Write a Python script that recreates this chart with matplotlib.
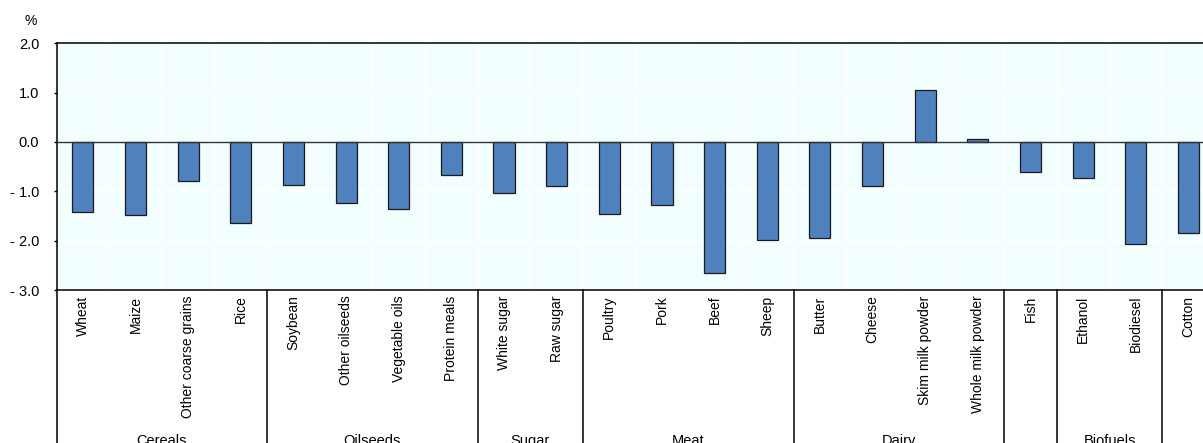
import matplotlib
matplotlib.use("Agg")
from matplotlib import pyplot as plt
from matplotlib import transforms
import numpy as np

# commodities and % change values
products = ["Wheat", "Maize", "Other coarse grains", "Rice",
            "Soybean", "Other oilseeds", "Vegetable oils", "Protein meals",
            "White sugar", "Raw sugar",
            "Poultry", "Pork", "Beef", "Sheep",
            "Butter", "Cheese", "Skim milk powder", "Whole milk powder",
            "Fish",
            "Ethanol", "Biodiesel",
            "Cotton"]
values = [-1.41, -1.47, -0.80, -1.64,
          -0.87, -1.23, -1.36, -0.67,
          -1.04, -0.89,
          -1.46, -1.28, -2.66, -1.99,
          -1.95, -0.89, 1.05, 0.06,
          -0.61,
          -0.72, -2.07,
          -1.85]
groups = ["Cereals", "Oilseeds", "Sugar", "Meat", "Dairy", "", "Biofuels", ""]
group_sizes = [4, 4, 2, 4, 4, 1, 2, 1]
yticks = [-3, -2, -1, 0, 1, 2]

plt.rcParams['font.family'] = ['Liberation Sans', 'DejaVu Sans']

W, H = 1203, 443
fig = plt.figure(figsize=(W / 100, H / 100), dpi=100)
# axes runs past the right edge of the picture, like the original
ax = fig.add_axes([56.5 / W, (H - 290) / H, 22 * 52.65 / W, 246.7 / H])
ax.set_facecolor("#F3FEFF")

x = np.arange(len(products))
ax.bar(x, values, width=0.4, color="#4F81BD", edgecolor="#1a1a1a", linewidth=0.9, zorder=3)

ax.set_xlim(-0.5, len(products) - 0.5)
ax.set_ylim(-3, 2)

# white grid
for b in np.arange(-0.5, len(products), 1.0):
    ax.axvline(b, color="white", lw=1.2, zorder=1)
for t in yticks:
    ax.axhline(t, color="white", lw=1.2, zorder=1)
ax.axhline(0, color="#333333", lw=1.0, zorder=4)

ax.set_yticks(yticks)
ax.set_yticklabels([("- %.1f" % abs(t)) if t < 0 else "%.1f" % t for t in yticks], fontsize=10.5)
ax.tick_params(axis="y", length=2.5, width=1, pad=10)
ax.set_xticks(x)
ax.set_xticklabels(products, rotation=90, fontsize=10, va="top")
ax.tick_params(axis="x", length=0, pad=4)

for s in ["top", "left", "bottom"]:
    ax.spines[s].set_linewidth(1.1)
    ax.spines[s].set_color("black")
ax.spines["right"].set_visible(False)

fig.text(31 / W, 1 - 21 / H, "%", fontsize=10, ha="center", va="center")

# group separators and group names below the axis
tr = transforms.blended_transform_factory(ax.transData, ax.transAxes)
edges = np.concatenate([[0], np.cumsum(group_sizes)]) - 0.5
for e in edges:
    ax.plot([e, e], [0, -0.7], color="black", lw=1.1, transform=tr, clip_on=False)
for i, g in enumerate(groups):
    mid = (edges[i] + edges[i + 1]) / 2
    ax.text(mid, -0.612, g, transform=tr, ha="center", va="center", fontsize=10.5)

fig.savefig("out.png", dpi=100)
